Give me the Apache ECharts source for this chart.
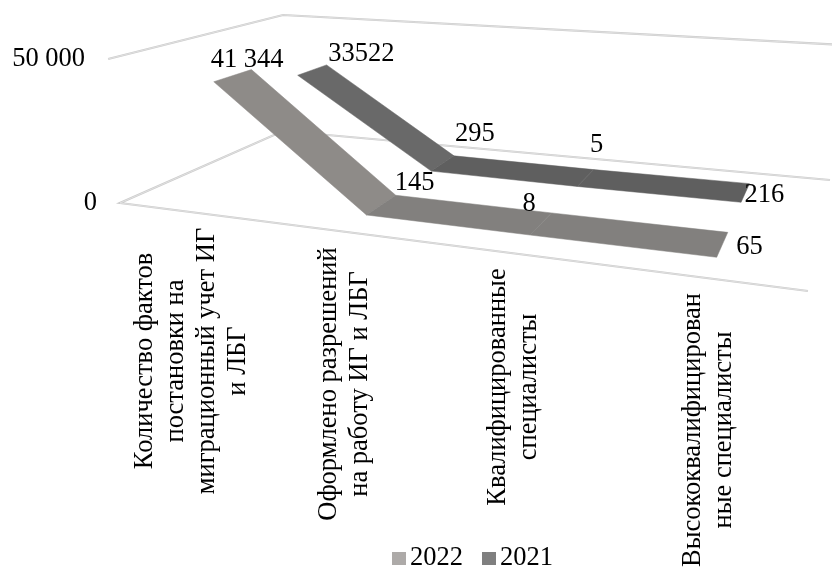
<!DOCTYPE html>
<html>
<head>
<meta charset="utf-8">
<title>chart</title>
<script src="https://cdn.jsdelivr.net/npm/echarts@6/dist/echarts.min.js"></script>
<style>
  html, body { margin: 0; padding: 0; background: #fff; }
  #chart { width: 832px; height: 568px; }
</style>
</head>
<body>
<div id="chart"></div>
<script>
var categories = [
  'Количество фактов\nпостановки на\nмиграционный учет ИГ\nи ЛБГ',
  'Оформлено разрешений\nна работу ИГ и ЛБГ',
  'Квалифицированные\nспециалисты',
  'Высококвалифицирован\nные специалисты'
];
var values2022 = [41344, 145, 8, 65];
var values2021 = [33522, 295, 5, 216];
var labels2022 = ['41 344', '145', '8', '65'];
var labels2021 = ['33522', '295', '5', '216'];
var yTicks = [0, 50000];
var yTickLabels = ['0', '50 000'];

// 3d box corners on screen
var floorFL = [120, 203], floorFR = [808, 291], floorBR = [830, 180], floorBL = [283, 131];
var topFL = [107, 59], topBL = [283, 15];
var topTilt = 7;   // back wall top runs a bit steeper than the plain projection
var ribbonDrift = 0.009;

// depth bands of the two ribbons
var band2022 = [0.155, 0.365];
var band2021 = [0.655, 0.865];

var FONT = '"Liberation Serif", "Times New Roman", serif';
var FONT_SIZE = 26.5;

// square -> quad homography
var dx1 = floorFR[0] - floorBR[0], dx2 = floorBL[0] - floorBR[0];
var dy1 = floorFR[1] - floorBR[1], dy2 = floorBL[1] - floorBR[1];
var sx = floorFL[0] - floorFR[0] + floorBR[0] - floorBL[0];
var sy = floorFL[1] - floorFR[1] + floorBR[1] - floorBL[1];
var den = dx1 * dy2 - dx2 * dy1;
var g = (sx * dy2 - dx2 * sy) / den;
var h = (dx1 * sy - sx * dy1) / den;
var a = floorFR[0] - floorFL[0] + g * floorFR[0];
var b = floorBL[0] - floorFL[0] + h * floorBL[0];
var c = floorFL[0];
var d = floorFR[1] - floorFL[1] + g * floorFR[1];
var e = floorBL[1] - floorFL[1] + h * floorBL[1];
var f = floorFL[1];

// height column from the left wall top corners
var w1 = 1, w2 = 1 + h;
var a1 = topFL[1] * w1 - f, a2 = topBL[1] * w2 - (e + f);
var r = (a1 - a2) / (topBL[1] - topFL[1]);
var q = a1 + topFL[1] * r;
var p = topBL[0] * w2 - (b + c) + topBL[0] * r;

// u along categories 0..1, y height 0..1, v depth 0..1
function project(u, y, v) {
  var w = g * u + h * v + 1 + r * y;
  return [(a * u + b * v + c + p * y) / w, (d * u + e * v + f + q * y) / w + topTilt * y * u];
}

function ribbonPoint(pos, v) {
  return project(pos[0] + ribbonDrift * (1 - pos[1]), pos[1], v);
}

// pixel in the hidden grid -> 0..1 of the grid
function unit(coord, sys) {
  return [(coord[0] - sys.x) / sys.width, (sys.y + sys.height - coord[1]) / sys.height];
}

function ribbonSeries(name, values, labels, band, color, shades, labelShift) {
  return {
    name: name,
    type: 'custom',
    coordinateSystem: 'cartesian2d',
    itemStyle: { color: color },
    silent: true,
    data: values.map(function (v, i) { return [categories[i], v]; }),
    renderItem: function (params, api) {
      var i = params.dataIndex;
      var sys = params.coordSys;
      var now = unit(api.coord([categories[i], values[i]]), sys);
      var kids = [];
      if (i < values.length - 1) {
        var next = unit(api.coord([categories[i + 1], values[i + 1]]), sys);
        kids.push({
          type: 'polygon',
          z2: 1,
          shape: {
            points: [
              ribbonPoint(now, band[0]),
              ribbonPoint(next, band[0]),
              ribbonPoint(next, band[1]),
              ribbonPoint(now, band[1])
            ]
          },
          style: { fill: shades[i], stroke: shades[i], lineWidth: 0.5 }
        });
      }
      var at = ribbonPoint(now, (band[0] + band[1]) / 2);
      kids.push({
        type: 'text',
        z2: 5,
        x: at[0] + labelShift[i][0],
        y: at[1] + labelShift[i][1],
        style: { text: labels[i], font: FONT_SIZE + 'px ' + FONT, fill: '#000', align: 'center', verticalAlign: 'middle' }
      });
      return { type: 'group', children: kids };
    }
  };
}

var wallSeries = {
  type: 'custom',
  coordinateSystem: 'cartesian2d',
  silent: true,
  z: 1,
  data: yTicks.map(function (t) { return [categories[0], t]; }),
  renderItem: function (params, api) {
    var t = params.dataIndex;
    var sys = params.coordSys;
    var y = unit(api.coord([categories[0], yTicks[t]]), sys)[1];
    var pts = [project(0, y, 0), project(0, y, 1), project(1, y, 1)];
    if (yTicks[t] === 0) {
      pts.unshift(project(1, y, 0));
    }
    var left = project(0, y, 0);
    return {
      type: 'group',
      children: [
        { type: 'polyline', shape: { points: pts }, style: { fill: null, stroke: '#cbcbcb', lineWidth: 2.2 } },
        { type: 'polyline', shape: { points: pts }, style: { fill: null, stroke: '#eeeeee', lineWidth: 0.6 } },
        {
          type: 'text',
          x: left[0] - 23,
          y: left[1],
          style: { text: yTickLabels[t], font: FONT_SIZE + 'px ' + FONT, fill: '#000', align: 'right', verticalAlign: 'middle' }
        }
      ]
    };
  }
};

var catCenters = [[192, 361], [345, 384], [514, 387], [709, 430]];
var catSeries = {
  type: 'custom',
  coordinateSystem: 'cartesian2d',
  silent: true,
  z: 6,
  data: categories.map(function (n) { return [n, 0]; }),
  renderItem: function (params) {
    var i = params.dataIndex;
    return {
      type: 'text',
      x: catCenters[i][0],
      y: catCenters[i][1],
      rotation: Math.PI / 2,
      style: {
        text: categories[i],
        font: FONT_SIZE + 'px ' + FONT,
        lineHeight: 31,
        fill: '#000',
        align: 'center',
        verticalAlign: 'middle'
      }
    };
  }
};

var shift2022 = [[14, -15], [33, -22], [-12, -20], [27, 3]];
var shift2021 = [[49, -16], [32, -29], [11, -33], [19, 2]];

var option = {
  animation: false,
  textStyle: { fontFamily: FONT },
  grid: { left: 0, right: 0, top: 0, bottom: 0 },
  xAxis: { type: 'category', data: categories, show: false },
  yAxis: { type: 'value', min: 0, max: 50000, show: false },
  legend: {
    left: 387,
    top: 540,
    itemWidth: 14,
    itemHeight: 13,
    itemGap: 19,
    icon: 'rect',
    data: ['2022', '2021'],
    textStyle: { fontFamily: FONT, fontSize: FONT_SIZE, color: '#000', padding: [0, 0, 0, -1] }
  },
  series: [
    wallSeries,
    ribbonSeries('2021', values2021, labels2021, band2021, '#7f7f7f', ['#696969', '#5f5f5f', '#5f5f5f'], shift2021),
    ribbonSeries('2022', values2022, labels2022, band2022, '#adaaa8', ['#8e8b88', '#82807e', '#82807e'], shift2022),
    catSeries
  ]
};

var myChart = echarts.init(document.getElementById('chart'));
myChart.setOption(option);
</script>
</body>
</html>
